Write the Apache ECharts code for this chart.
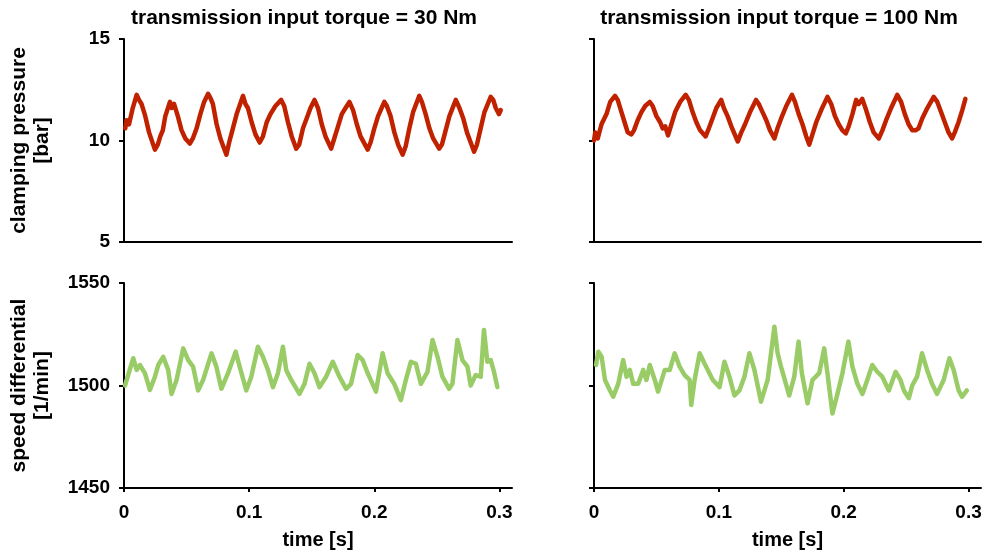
<!DOCTYPE html>
<html>
<head>
<meta charset="utf-8">
<script src="https://cdn.jsdelivr.net/npm/echarts@6/dist/echarts.min.js"></script>
<style>
html,body{margin:0;padding:0;background:#fff;}
#chart{width:992px;height:553px;}
</style>
</head>
<body>
<div id="chart"></div>
<script>
// ---------- data ----------
const panelTitles = ['transmission input torque = 30 Nm', 'transmission input torque = 100 Nm'];
const pressureName = 'clamping pressure\n[bar]';
const speedName = 'speed differential\n[1/min]';
const timeName = 'time [s]';
const timeTicks = [0, 0.1, 0.2, 0.3];

// clamping pressure, 30 Nm
const tPress30 = [0.001,0.002,0.004,0.007,0.0101,0.012,0.014,0.017,0.020,0.0247,0.027,0.029,0.031,0.033,0.0367,0.038,0.040,0.043,0.046,0.049,0.0526,0.055,0.058,0.061,0.064,0.0672,0.069,0.071,0.074,0.077,0.0818,0.084,0.087,0.090,0.0951,0.097,0.099,0.102,0.105,0.1084,0.111,0.114,0.117,0.121,0.1256,0.128,0.131,0.134,0.1376,0.140,0.143,0.146,0.149,0.1522,0.155,0.158,0.161,0.1655,0.168,0.171,0.174,0.177,0.1801,0.183,0.186,0.189,0.1947,0.197,0.200,0.203,0.2080,0.210,0.213,0.216,0.219,0.2226,0.225,0.228,0.231,0.2359,0.238,0.241,0.244,0.247,0.2518,0.254,0.257,0.260,0.2651,0.268,0.271,0.274,0.277,0.2797,0.282,0.285,0.288,0.2930,0.295,0.297,0.2996,0.301];
const pPress30 = [10.6,11.0,10.8,11.6,12.25,12.0,11.8,11.2,10.4,9.55,9.8,10.2,10.5,11.2,11.9,11.6,11.8,11.2,10.5,10.1,9.85,10.1,10.6,11.3,11.9,12.3,12.1,11.8,10.8,10.1,9.3,9.9,10.6,11.3,12.2,11.8,11.6,10.9,10.3,9.9,10.2,10.9,11.3,11.7,12.0,11.7,10.9,10.2,9.6,9.8,10.6,11.1,11.6,12.0,11.6,10.8,10.2,9.6,10.1,10.7,11.3,11.6,11.9,11.5,10.8,10.2,9.55,9.9,10.6,11.2,11.9,11.7,11.2,10.4,9.8,9.3,9.7,10.6,11.4,12.2,11.9,11.3,10.6,10.1,9.6,9.8,10.5,11.2,12.0,11.6,11.1,10.4,9.9,9.45,9.8,10.6,11.4,12.15,12.0,11.6,11.3,11.5];

// clamping pressure, 100 Nm
const tPress100 = [0.000,0.001,0.003,0.006,0.010,0.013,0.0168,0.019,0.022,0.025,0.027,0.030,0.032,0.035,0.038,0.041,0.0447,0.047,0.050,0.053,0.055,0.057,0.0593,0.062,0.065,0.069,0.0734,0.076,0.079,0.082,0.085,0.0894,0.092,0.095,0.098,0.1019,0.104,0.107,0.110,0.1152,0.118,0.121,0.125,0.1298,0.132,0.135,0.138,0.141,0.1445,0.147,0.150,0.154,0.1586,0.161,0.164,0.167,0.170,0.1724,0.175,0.178,0.182,0.1870,0.190,0.193,0.196,0.199,0.2017,0.204,0.207,0.210,0.212,0.2149,0.218,0.221,0.224,0.2282,0.231,0.234,0.238,0.2429,0.246,0.249,0.252,0.255,0.2575,0.260,0.263,0.267,0.2721,0.275,0.278,0.281,0.284,0.2868,0.289,0.292,0.295,0.2975];
const pPress100 = [10.0,10.4,10.1,10.8,11.3,11.9,12.2,12.0,11.4,10.8,10.4,10.3,10.5,11.0,11.4,11.7,11.9,11.7,11.2,10.9,10.6,10.7,10.25,10.8,11.4,11.9,12.25,12.0,11.4,10.9,10.5,10.2,10.6,11.1,11.6,12.0,11.6,11.2,10.7,9.95,10.4,10.8,11.4,12.0,11.8,11.4,11.0,10.5,10.1,10.6,11.1,11.7,12.25,11.9,11.3,10.8,10.2,9.8,10.3,10.9,11.5,12.15,11.8,11.2,10.8,10.5,10.35,10.7,11.3,12.0,11.8,12.05,11.5,10.9,10.4,10.1,10.5,11.0,11.6,12.25,11.9,11.3,10.8,10.5,10.5,10.6,11.1,11.6,12.15,11.9,11.4,10.9,10.4,10.1,10.4,10.9,11.5,12.05];

// speed differential, 30 Nm
const tSpeed30 = [0.0008,0.0074,0.0101,0.0127,0.0167,0.0207,0.0247,0.0274,0.0313,0.0353,0.0380,0.0420,0.0473,0.0513,0.0552,0.0592,0.0632,0.0699,0.0738,0.0778,0.0831,0.0892,0.0924,0.0977,0.1017,0.1070,0.1110,0.1150,0.1190,0.1230,0.1270,0.1296,0.1336,0.1402,0.1442,0.1482,0.1522,0.1562,0.1615,0.1668,0.1721,0.1774,0.1814,0.1867,0.1907,0.1947,0.2013,0.2066,0.2106,0.2159,0.2212,0.2252,0.2292,0.2332,0.2372,0.2425,0.2465,0.2505,0.2544,0.2598,0.2624,0.2664,0.2704,0.2744,0.2770,0.2810,0.2850,0.2876,0.2903,0.2930,0.2956,0.2983];
const vSpeed30 = [1500,1513.3,1507.6,1510,1506,1497.8,1504.3,1510,1514,1507.6,1495.9,1502.7,1518.1,1512.4,1509.2,1497.6,1502.7,1515.7,1509.2,1498.4,1506,1516.5,1509.2,1497.6,1504.3,1518.9,1514,1507.6,1499.2,1506,1518.9,1507.6,1502.7,1495.9,1500.8,1510.6,1506,1499.2,1504.3,1511.6,1504.3,1498.4,1500.8,1514.9,1512.4,1506,1497,1515.7,1506,1500.8,1492.9,1502.7,1511.6,1510.6,1500.8,1506.7,1522.2,1514,1504.3,1498.4,1500.8,1522.2,1512.4,1509.2,1500,1505.1,1504.3,1527.1,1511.6,1512.4,1506.7,1499.2];

// speed differential, 100 Nm
const tSpeed100 = [0.0016,0.0035,0.0061,0.0088,0.0128,0.0154,0.0194,0.0234,0.0261,0.0287,0.0314,0.0354,0.0394,0.0420,0.0447,0.0487,0.0513,0.0567,0.0607,0.0646,0.0686,0.0726,0.0766,0.0779,0.0806,0.0846,0.0886,0.0952,0.1006,0.1045,0.1085,0.1125,0.1165,0.1205,0.1245,0.1285,0.1338,0.1391,0.1445,0.1471,0.1498,0.1564,0.1604,0.1639,0.1665,0.1711,0.1750,0.1804,0.1844,0.1870,0.1910,0.1950,0.1990,0.2038,0.2070,0.2110,0.2150,0.2189,0.2229,0.2269,0.2309,0.2362,0.2416,0.2455,0.2482,0.2522,0.2549,0.2588,0.2628,0.2668,0.2708,0.2748,0.2801,0.2847,0.2881,0.2921,0.2948,0.2987];
const vSpeed100 = [1510,1516.5,1514,1502.7,1497.6,1494.5,1500.8,1512.4,1504.3,1507.6,1500.8,1500.8,1507.6,1502.7,1510,1502.7,1497,1507.6,1507.6,1515.7,1509.2,1505.1,1502.7,1490.5,1502.7,1515.7,1510.6,1502.7,1499.2,1511.6,1504.3,1495.1,1497.6,1504.3,1515.7,1507.6,1492.1,1502.7,1528.7,1515.7,1509.2,1495.1,1504.3,1521.4,1506,1491.3,1502.7,1506,1518.1,1506,1486.4,1495.9,1506,1521.4,1509.2,1500.8,1495.9,1502.7,1510,1506.7,1504.3,1497.6,1506.7,1502.7,1497.6,1493.8,1500,1504.3,1515.7,1507.6,1500.8,1495.9,1502.7,1513.3,1507.6,1497.6,1494.5,1497.6];

// ---------- chart ----------
const FONT = '"Liberation Sans", Arial, Helvetica, sans-serif';
const RED = '#c02200';
const GREEN = '#99cc66';
const pair = (xs, ys) => xs.map((x, i) => [x, ys[i]]);

const grids = [
  {left: 124, top: 39, width: 388, height: 203},
  {left: 594, top: 39, width: 387, height: 203},
  {left: 124, top: 283, width: 388, height: 205},
  {left: 594, top: 283, width: 387, height: 205}
];

function xAxisFor(i, bottom) {
  return {
    type: 'value', gridIndex: i, min: 0, max: 0.31,
    axisLine: {show: true, onZero: false, lineStyle: {color: '#000', width: 2}},
    splitLine: {show: false},
    axisTick: bottom ? {show: true, length: 4, customValues: timeTicks, lineStyle: {color: '#000', width: 2}} : {show: false},
    axisLabel: bottom ? {show: true, customValues: timeTicks, margin: 15, color: '#000', fontSize: 19, fontWeight: 'bold', fontFamily: FONT,
      formatter: v => (v === 0 ? '0' : v.toFixed(1))} : {show: false},
    name: bottom ? timeName : '',
    nameLocation: 'middle', nameGap: 42,
    nameTextStyle: {color: '#000', fontSize: 20, fontWeight: 'bold', fontFamily: FONT}
  };
}
function yAxisFor(i, min, max, interval, showLabel, name) {
  return {
    type: 'value', gridIndex: i, min: min, max: max, interval: interval,
    axisLine: {show: true, onZero: false, lineStyle: {color: '#000', width: 2}},
    splitLine: {show: false},
    axisTick: {show: true, length: 5, lineStyle: {color: '#000', width: 2}},
    axisLabel: {show: showLabel, margin: 14, color: '#000', fontSize: 19, fontWeight: 'bold', fontFamily: FONT,
      formatter: v => String(v)},
    name: name, nameLocation: 'middle', nameGap: 70, nameRotate: 90,
    nameTextStyle: {color: '#000', fontSize: 21, fontWeight: 'bold', fontFamily: FONT, lineHeight: 23, align: 'center'}
  };
}

const lineStyleOf = (c) => ({color: c, width: 4.5, join: 'round', cap: 'round'});

const option = {
  backgroundColor: '#fff',
  animation: false,
  title: [
    {text: panelTitles[0], left: 299, top: 3, textAlign: 'center',
     textStyle: {color: '#000', fontSize: 21, fontWeight: 'bold', fontFamily: FONT}},
    {text: panelTitles[1], left: 774, top: 3, textAlign: 'center',
     textStyle: {color: '#000', fontSize: 21, fontWeight: 'bold', fontFamily: FONT}}
  ],
  grid: grids,
  xAxis: [xAxisFor(0, false), xAxisFor(1, false), xAxisFor(2, true), xAxisFor(3, true)],
  yAxis: [
    yAxisFor(0, 5, 15, 5, true, pressureName),
    yAxisFor(1, 5, 15, 5, false, ''),
    yAxisFor(2, 1450, 1550, 50, true, speedName),
    yAxisFor(3, 1450, 1550, 50, false, '')
  ],
  series: [
    {type: 'line', xAxisIndex: 0, yAxisIndex: 0, data: pair(tPress30, pPress30), showSymbol: false, lineStyle: lineStyleOf(RED), itemStyle: {color: RED}},
    {type: 'line', xAxisIndex: 1, yAxisIndex: 1, data: pair(tPress100, pPress100), showSymbol: false, lineStyle: lineStyleOf(RED), itemStyle: {color: RED}},
    {type: 'line', xAxisIndex: 2, yAxisIndex: 2, data: pair(tSpeed30, vSpeed30), showSymbol: false, lineStyle: lineStyleOf(GREEN), itemStyle: {color: GREEN}},
    {type: 'line', xAxisIndex: 3, yAxisIndex: 3, data: pair(tSpeed100, vSpeed100), showSymbol: false, lineStyle: lineStyleOf(GREEN), itemStyle: {color: GREEN}}
  ]
};

const chart = echarts.init(document.getElementById('chart'), null, {renderer: 'canvas'});
chart.setOption(option);
</script>
</body>
</html>
